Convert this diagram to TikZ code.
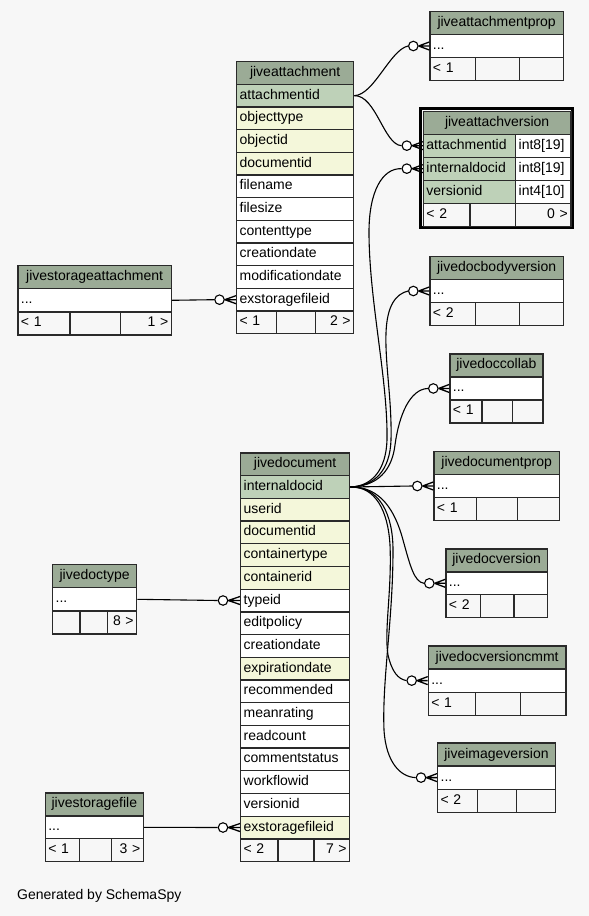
\documentclass[tikz,border=0pt]{standalone}
\usepackage{fontspec}
\setmainfont{Liberation Sans}
\definecolor{hdrc}{HTML}{9BAB96}
\definecolor{pkc}{HTML}{BED1B8}
\definecolor{idxc}{HTML}{F4F7DA}
\definecolor{bgc}{HTML}{F7F7F7}
\definecolor{linec}{HTML}{2A2A2A}
\tikzset{
  cell/.style={draw=linec, line width=1.3pt, anchor=north west, inner xsep=3pt, inner ysep=0pt,
    text height=10pt, text depth=3pt, font=\fontsize{14}{16}\selectfont, align=left},
  hdr/.style={cell, fill=hdrc, align=center},
  pk/.style={cell, fill=pkc},
  idx/.style={cell, fill=idxc},
  plain/.style={cell, fill=white},
  foot/.style={cell, fill=bgc},
  footr/.style={cell, fill=bgc, align=right},
  rel/.style={draw=black, line width=1.1pt},
  crw/.style={draw=black, line width=1.3pt},
  crc/.style={circle, draw=black, fill=white, line width=1.1pt, minimum size=9.5pt, inner sep=0pt},
}
\newcommand\C[7]{\pgfmathsetmacro\cw{#5-6}\node[#1,text width=\cw pt,minimum height=#6pt] (#2) at (#3,#4) {#7};}
\newcommand\crow[2]{\draw[crw] (#1.east) -- ([yshift=-4pt]#2.west) (#1.east) -- (#2.west) (#1.east) -- ([yshift=4pt]#2.west);}
\begin{document}
\begin{tikzpicture}[x=1pt,y=-1pt]
\fill[bgc] (0,0) rectangle (589,916);
\useasboundingbox (0,0) rectangle (589,916);

% jiveattachmentprop
\C{hdr}{ap-h}{429.3}{10.7}{133.4}{23.1}{jiveattachmentprop}
\C{plain}{ap-r1}{429.3}{33.8}{133.4}{23.1}{...}
\C{foot}{ap-f1}{429.3}{56.9}{45.4}{23.1}{< 1}
\C{foot}{ap-f2}{474.7}{56.9}{44}{23.1}{}
\C{foot}{ap-f3}{518.7}{56.9}{44}{23.1}{}

% jiveattachment
\C{hdr}{at-h}{236}{61}{117}{22.67}{jiveattachment}
\C{pk}{at-r1}{236}{83.67}{117}{22.67}{attachmentid}
\C{idx}{at-r2}{236}{106.34}{117}{22.67}{objecttype}
\C{idx}{at-r3}{236}{129.01}{117}{22.67}{objectid}
\C{idx}{at-r4}{236}{151.68}{117}{22.67}{documentid}
\C{plain}{at-r5}{236}{174.35}{117}{22.67}{filename}
\C{plain}{at-r6}{236}{197.02}{117}{22.67}{filesize}
\C{plain}{at-r7}{236}{219.69}{117}{22.67}{contenttype}
\C{plain}{at-r8}{236}{242.36}{117}{22.67}{creationdate}
\C{plain}{at-r9}{236}{265.03}{117}{22.67}{modificationdate}
\C{plain}{at-r10}{236}{287.7}{117}{22.67}{exstoragefileid}
\C{foot}{at-f1}{236}{310.37}{39.7}{22.67}{< 1}
\C{foot}{at-f2}{275.7}{310.37}{39.3}{22.67}{}
\C{footr}{at-f3}{315}{310.37}{38}{22.67}{2 >}

% jiveattachversion
\draw[draw=black, line width=2.6pt] (420.5,108.5) rectangle (572.2,227.6);
\C{hdr}{av-h}{422.8}{110.5}{147.4}{23}{jiveattachversion}
\C{pk}{av-r1}{422.8}{133.5}{92.2}{23}{attachmentid}
\C{plain}{av-t1}{515}{133.5}{55.2}{23}{int8[19]}
\C{pk}{av-r2}{422.8}{156.5}{92.2}{23}{internaldocid}
\C{plain}{av-t2}{515}{156.5}{55.2}{23}{int8[19]}
\C{pk}{av-r3}{422.8}{179.5}{92.2}{23}{versionid}
\C{plain}{av-t3}{515}{179.5}{55.2}{23}{int4[10]}
\C{foot}{av-f1}{422.8}{202.5}{46.5}{23}{< 2}
\C{foot}{av-f2}{469.3}{202.5}{45.7}{23}{}
\C{footr}{av-f3}{515}{202.5}{55.2}{23}{0 >}

% jivestorageattachment
\C{hdr}{sa-h}{17.3}{265}{153.4}{23.1}{jivestorageattachment}
\C{plain}{sa-r1}{17.3}{288.1}{153.4}{23.1}{...}
\C{foot}{sa-f1}{17.3}{311.2}{52}{23.1}{< 1}
\C{foot}{sa-f2}{69.3}{311.2}{50.7}{23.1}{}
\C{footr}{sa-f3}{120}{311.2}{50.7}{23.1}{1 >}

% jivedocbodyversion
\C{hdr}{bv-h}{429.3}{255.7}{133.4}{23.1}{jivedocbodyversion}
\C{plain}{bv-r1}{429.3}{278.8}{133.4}{23.1}{...}
\C{foot}{bv-f1}{429.3}{301.9}{45.4}{23.1}{< 2}
\C{foot}{bv-f2}{474.7}{301.9}{44.3}{23.1}{}
\C{foot}{bv-f3}{519}{301.9}{43.7}{23.1}{}

% jivedoccollab
\C{hdr}{dc-h}{449.3}{353.3}{93}{23}{jivedoccollab}
\C{plain}{dc-r1}{449.3}{376.3}{93}{23}{...}
\C{foot}{dc-f1}{449.3}{399.3}{32}{23}{< 1}
\C{foot}{dc-f2}{481.3}{399.3}{30.4}{23}{}
\C{foot}{dc-f3}{511.7}{399.3}{30.6}{23}{}

% jivedocumentprop
\C{hdr}{dp-h}{433.3}{450.7}{125.4}{23.1}{jivedocumentprop}
\C{plain}{dp-r1}{433.3}{473.8}{125.4}{23.1}{...}
\C{foot}{dp-f1}{433.3}{496.9}{42.7}{23.1}{< 1}
\C{foot}{dp-f2}{476}{496.9}{41}{23.1}{}
\C{foot}{dp-f3}{517}{496.9}{41.7}{23.1}{}

% jivedocument
\C{hdr}{d-h}{240}{452.3}{109}{22.7}{jivedocument}
\C{pk}{d-r1}{240}{475.0}{109}{22.7}{internaldocid}
\C{idx}{d-r2}{240}{497.7}{109}{22.7}{userid}
\C{idx}{d-r3}{240}{520.4}{109}{22.7}{documentid}
\C{idx}{d-r4}{240}{543.1}{109}{22.7}{containertype}
\C{idx}{d-r5}{240}{565.8}{109}{22.7}{containerid}
\C{plain}{d-r6}{240}{588.5}{109}{22.7}{typeid}
\C{plain}{d-r7}{240}{611.2}{109}{22.7}{editpolicy}
\C{plain}{d-r8}{240}{633.9}{109}{22.7}{creationdate}
\C{idx}{d-r9}{240}{656.6}{109}{22.7}{expirationdate}
\C{plain}{d-r10}{240}{679.3}{109}{22.7}{recommended}
\C{plain}{d-r11}{240}{702.0}{109}{22.7}{meanrating}
\C{plain}{d-r12}{240}{724.7}{109}{22.7}{readcount}
\C{plain}{d-r13}{240}{747.4}{109}{22.7}{commentstatus}
\C{plain}{d-r14}{240}{770.1}{109}{22.7}{workflowid}
\C{plain}{d-r15}{240}{792.8}{109}{22.7}{versionid}
\C{idx}{d-r16}{240}{815.5}{109}{22.7}{exstoragefileid}
\C{foot}{d-f1}{240}{838.2}{37.3}{22.7}{< 2}
\C{foot}{d-f2}{277.3}{838.2}{36}{22.7}{}
\C{footr}{d-f3}{313.3}{838.2}{35.7}{22.7}{7 >}

% jivedoctype
\C{hdr}{dt-h}{52}{564}{84}{23.1}{jivedoctype}
\C{plain}{dt-r1}{52}{587.1}{84}{23.1}{...}
\C{foot}{dt-f1}{52}{610.2}{27.3}{23.1}{}
\C{foot}{dt-f2}{79.3}{610.2}{27.4}{23.1}{}
\C{footr}{dt-f3}{106.7}{610.2}{29.3}{23.1}{8 >}

% jivedocversion
\C{hdr}{v-h}{445.3}{548.3}{101.4}{22.9}{jivedocversion}
\C{plain}{v-r1}{445.3}{571.2}{101.4}{22.9}{...}
\C{foot}{v-f1}{445.3}{594.1}{34.7}{22.9}{< 2}
\C{foot}{v-f2}{480}{594.1}{33.3}{22.9}{}
\C{foot}{v-f3}{513.3}{594.1}{33.4}{22.9}{}

% jivedocversioncmmt
\C{hdr}{vc-h}{427.7}{645.3}{137.6}{23.1}{jivedocversioncmmt}
\C{plain}{vc-r1}{427.7}{668.4}{137.6}{23.1}{...}
\C{foot}{vc-f1}{427.7}{691.5}{47}{23.1}{< 1}
\C{foot}{vc-f2}{474.7}{691.5}{45.3}{23.1}{}
\C{foot}{vc-f3}{520}{691.5}{45.3}{23.1}{}

% jiveimageversion
\C{hdr}{iv-h}{437}{742.3}{117.7}{23.1}{jiveimageversion}
\C{plain}{iv-r1}{437}{765.4}{117.7}{23.1}{...}
\C{foot}{iv-f1}{437}{788.5}{39.7}{23.1}{< 2}
\C{foot}{iv-f2}{476.7}{788.5}{39}{23.1}{}
\C{foot}{iv-f3}{515.7}{788.5}{39}{23.1}{}

% jivestoragefile
\C{hdr}{sf-h}{44.7}{792.3}{98}{22.9}{jivestoragefile}
\C{plain}{sf-r1}{44.7}{815.2}{98}{22.9}{...}
\C{foot}{sf-f1}{44.7}{838.1}{34}{22.9}{< 1}
\C{foot}{sf-f2}{78.7}{838.1}{32}{22.9}{}
\C{footr}{sf-f3}{110.7}{838.1}{32}{22.9}{3 >}

% circles
\node[crc] (c-ap) at ([xshift=-16pt]ap-r1.west) {};
\node[crc] (c-av1) at ([xshift=-16pt]av-r1.west) {};
\node[crc] (c-av2) at ([xshift=-16pt]av-r2.west) {};
\node[crc] (c-at) at ([xshift=-16.5pt]at-r10.west) {};
\node[crc] (c-bv) at ([xshift=-16pt]bv-r1.west) {};
\node[crc] (c-dc) at ([xshift=-16pt]dc-r1.west) {};
\node[crc] (c-dp) at ([xshift=-16pt]dp-r1.west) {};
\node[crc] (c-d6) at ([xshift=-17pt]d-r6.west) {};
\node[crc] (c-d16) at ([xshift=-17pt]d-r16.west) {};
\node[crc] (c-v) at ([xshift=-16pt]v-r1.west) {};
\node[crc] (c-vc) at ([xshift=-16pt]vc-r1.west) {};
\node[crc] (c-iv) at ([xshift=-16pt]iv-r1.west) {};

% connectors
\draw[rel] (at-r1.east) .. controls (374,95) and (390,50) .. (c-ap.west);
\draw[rel] (at-r1.east) .. controls (376,95) and (384,145) .. (c-av1.west);
\draw[rel] (d-r1.east) .. controls (372,486.3) and (386,470) .. (387,440)
  .. controls (388,380) and (369,300) .. (369,232)
  .. controls (369,192) and (382,168) .. (c-av2.west);
\draw[rel] (d-r1.east) .. controls (375,486.3) and (390,470) .. (391,440)
  .. controls (392,400) and (385,365) .. (386,333)
  .. controls (387,305) and (396,294) .. (c-bv.west);
\draw[rel] (d-r1.east) .. controls (378,486.3) and (392,470) .. (395,445)
  .. controls (399,415) and (410,389) .. (c-dc.west);
\draw[rel] (d-r1.east) -- (c-dp.west);
\draw[rel] (d-r1.east) .. controls (380,486.3) and (395,510) .. (403,540)
  .. controls (410,565) and (414,582) .. (c-v.west);
\draw[rel] (d-r1.east) .. controls (375,486.3) and (388,510) .. (390,545)
  .. controls (392,590) and (384,630) .. (388,655)
  .. controls (392,672) and (398,679) .. (c-vc.west);
\draw[rel] (d-r1.east) .. controls (380,486.3) and (393,515) .. (393,550)
  .. controls (393,620) and (382,680) .. (384,730)
  .. controls (386,762) and (400,777) .. (c-iv.west);
\draw[rel] (sa-r1.east) -- (c-at.west);
\draw[rel] (dt-r1.east) -- (c-d6.west);
\draw[rel] (sf-r1.east) -- (c-d16.west);

% crow's feet
\crow{c-ap}{ap-r1}
\crow{c-av1}{av-r1}
\crow{c-av2}{av-r2}
\crow{c-at}{at-r10}
\crow{c-bv}{bv-r1}
\crow{c-dc}{dc-r1}
\crow{c-dp}{dp-r1}
\crow{c-d6}{d-r6}
\crow{c-d16}{d-r16}
\crow{c-v}{v-r1}
\crow{c-vc}{vc-r1}
\crow{c-iv}{iv-r1}

\node[anchor=base west, inner sep=0pt, font=\fontsize{14}{16}\selectfont] (gen) at (17,899) {Generated by SchemaSpy};
\end{tikzpicture}
\end{document}
